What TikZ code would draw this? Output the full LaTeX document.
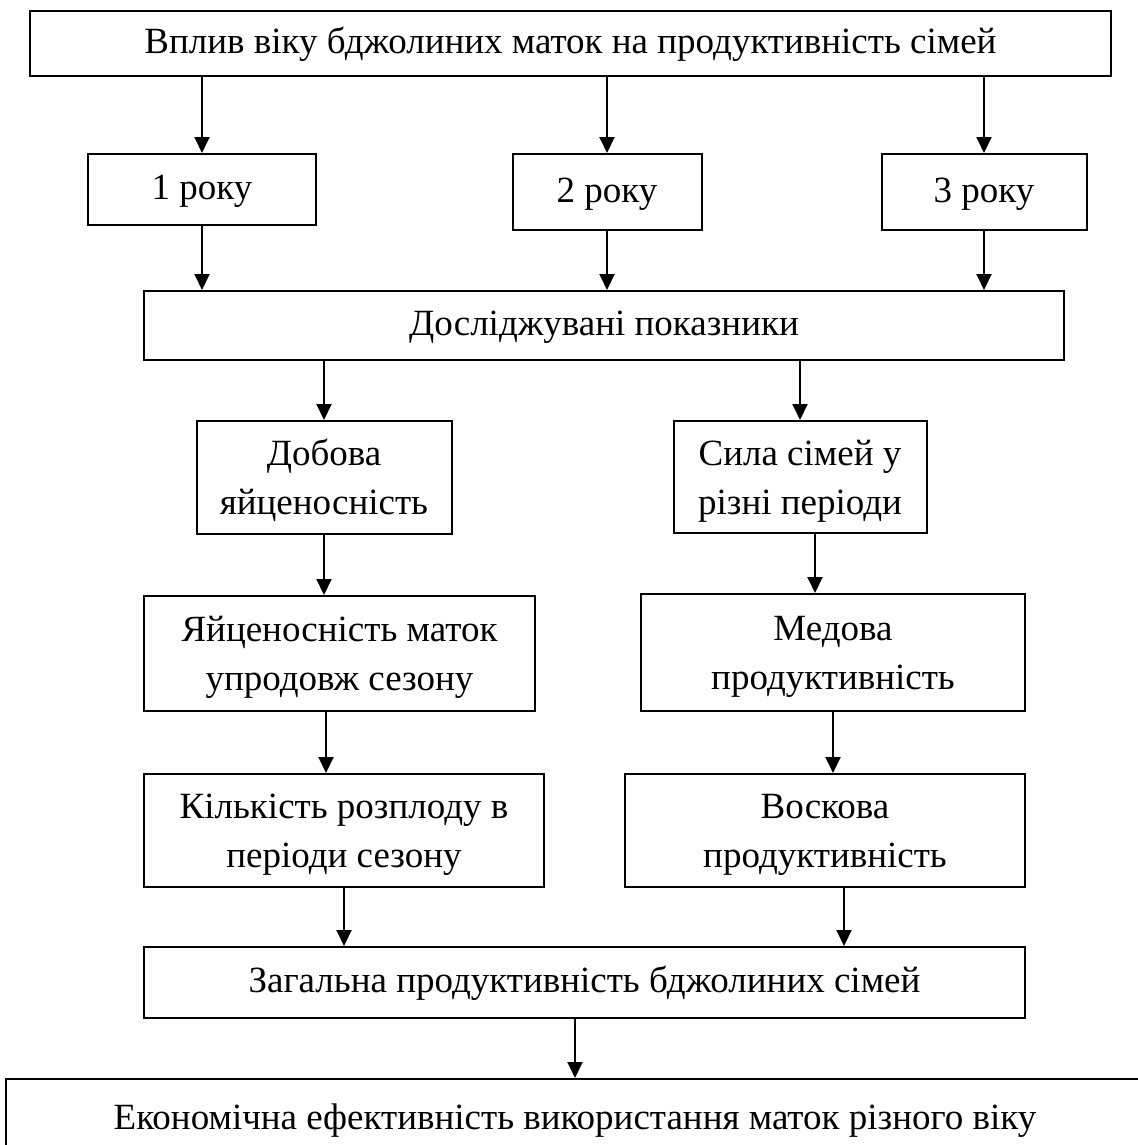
\documentclass[tikz,border=0pt]{standalone}
\usepackage{fontspec}
\setmainfont{Liberation Serif}
\usetikzlibrary{arrows.meta}
\begin{document}
\begin{tikzpicture}[x = 1pt, y = -1pt, line width = 2pt,
        box/.style = {draw, inner sep = 0pt, align = center, font = \fontsize{37}{49}\selectfont,
            text height = 28pt, text depth = 8pt},
        twobox/.style = {box, text height = 77pt, text depth = 3pt},
        >={Triangle[width = 15pt, length = 16pt]}]
        \useasboundingbox (0, 0) rectangle (1137, 1145);
        \node [box, minimum width = 1081pt, minimum height = 65pt] (top) at (570.5, 43.5) {Вплив віку бджолиних маток на продуктивність сімей};
        \node [box, minimum width = 228pt, minimum height = 71pt] (r1) at (202, 189.5) {1 року};
        \node [box, minimum width = 189pt, minimum height = 76pt] (r2) at (607, 192) {2 року};
        \node [box, minimum width = 205pt, minimum height = 76pt] (r3) at (984, 192) {3 року};
        \node [box, minimum width = 920pt, minimum height = 69pt] (pok) at (604, 325.5) {Досліджувані показники};
        \node [twobox, minimum width = 255pt, minimum height = 113pt] (dob) at (324, 477.5) {Добова\\яйценосність};
        \node [twobox, minimum width = 253pt, minimum height = 112pt] (syla) at (800, 477) {Сила сімей у\\різні періоди};
        \node [twobox, minimum width = 391pt, minimum height = 115pt] (yaits) at (339.5, 653.5) {Яйценосність маток\\упродовж сезону};
        \node [twobox, minimum width = 384pt, minimum height = 117pt] (med) at (833, 652.5) {Медова\\продуктивність};
        \node [twobox, minimum width = 400pt, minimum height = 113pt] (kilk) at (344, 830.5) {Кількість розплоду в\\періоди сезону};
        \node [twobox, minimum width = 400pt, minimum height = 113pt] (visk) at (825, 830.5) {Воскова\\продуктивність};
        \node [box, minimum width = 881pt, minimum height = 71pt] (zag) at (584.5, 982.5) {Загальна продуктивність бджолиних сімей};
        \node [box, anchor = north, minimum width = 1138pt, text height = 50pt, text depth = 60pt] (econ) at (575, 1078) {Економічна ефективність використання маток різного віку};
        \draw [->] (top.south -| r1.north) -- (r1.north);
        \draw [->] (top.south -| r2.north) -- (r2.north);
        \draw [->] (top.south -| r3.north) -- (r3.north);
        \draw [->] (r1.south) -- (r1.south |- pok.north);
        \draw [->] (r2.south) -- (r2.south |- pok.north);
        \draw [->] (r3.south) -- (r3.south |- pok.north);
        \draw [->] (pok.south -| dob.north) -- (dob.north);
        \draw [->] (pok.south -| syla.north) -- (syla.north);
        \draw [->] (dob.south) -- (dob.south |- yaits.north);
        \draw [->] ([xshift = 15pt]syla.south) -- ([xshift = 15pt]syla.south |- med.north);
        \draw [->] ([xshift = -13.5pt]yaits.south) -- ([xshift = -13.5pt]yaits.south |- kilk.north);
        \draw [->] (med.south) -- (med.south |- visk.north);
        \draw [->] (kilk.south) -- (kilk.south |- zag.north);
        \draw [->] ([xshift = 19pt]visk.south) -- ([xshift = 19pt]visk.south |- zag.north);
        \draw [->] (zag.south -| econ.north) -- (econ.north);
    \end{tikzpicture}
\end{document}
